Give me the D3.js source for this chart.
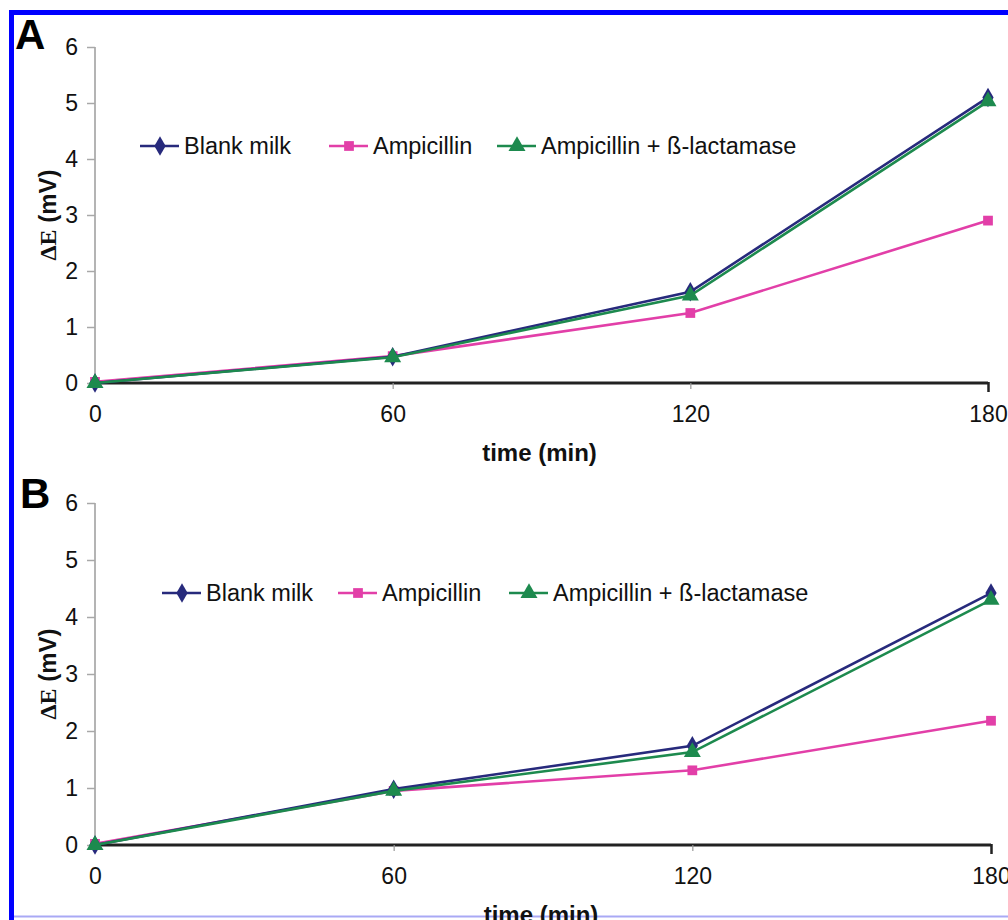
<!DOCTYPE html>
<html>
<head>
<meta charset="utf-8">
<script src="https://cdn.jsdelivr.net/npm/d3@7"></script>
<style>
  body { margin: 0; background: #fff; }
  text { font-family: "Liberation Sans", Arial, sans-serif; }
</style>
</head>
<body>
<script>
// time points and measured signal for the two panels
var times = [0, 60, 120, 180];
var yTicks = [0, 1, 2, 3, 4, 5, 6];
var seriesNames = ["Blank milk", "Ampicillin", "Ampicillin + ß-lactamase"];

var blankA = [0, 0.47, 1.63, 5.1];
var ampA = [0.02, 0.48, 1.25, 2.9];
var ampLacA = [0, 0.46, 1.56, 5.03];

var blankB = [0, 0.98, 1.74, 4.42];
var ampB = [0.02, 0.95, 1.31, 2.18];
var ampLacB = [0, 0.95, 1.63, 4.3];

var colors = ["#272a7c", "#e23fa8", "#1d8a4e"];
var symbols = [d3.symbolDiamond, d3.symbolSquare, d3.symbolTriangle];
var symbolSizes = [110, 95, 125];

var W = 1008, H = 920;

var svg = d3.select("body").append("svg")
    .attr("width", W)
    .attr("height", H);

svg.append("rect").attr("width", W).attr("height", H).attr("fill", "#fff");

// frame round the figure
svg.append("path")
    .attr("d", "M11.5,920 L11.5,12.5 L1008,12.5")
    .attr("fill", "none")
    .attr("stroke", "#0000ff")
    .attr("stroke-width", 5);
svg.append("line")
    .attr("x1", 14).attr("x2", W).attr("y1", 916.5).attr("y2", 916.5)
    .attr("stroke", "#a9a9f5").attr("stroke-width", 2);

function drawPanel(opt) {
  var g = svg.append("g");

  var x = d3.scaleLinear().domain([0, 180]).range([opt.x0, opt.x1]);
  var y = d3.scaleLinear().domain([0, 6]).range([opt.y0, opt.y6]);

  // y axis (grey)
  var yAxis = g.append("g")
      .attr("transform", "translate(" + opt.x0 + ",0)")
      .call(d3.axisLeft(y).tickValues(yTicks).tickSize(8).tickPadding(9).tickFormat(d3.format("d")));
  yAxis.select(".domain").attr("stroke", "#b4b4b4").attr("stroke-width", 2)
      .attr("d", "M0," + opt.y6 + "V" + opt.y0);
  yAxis.selectAll(".tick line").attr("stroke", "#a8a8a8").attr("stroke-width", 1.5);
  yAxis.selectAll(".tick text").attr("font-size", 23).attr("fill", "#111");

  // x axis (dark)
  var xAxis = g.append("g")
      .attr("transform", "translate(0," + opt.y0 + ")")
      .call(d3.axisBottom(x).tickValues(times).tickSize(6).tickPadding(17));
  xAxis.select(".domain").attr("stroke", "#222").attr("stroke-width", 3)
      .attr("d", "M" + opt.x0 + ",0H" + opt.x1);
  xAxis.selectAll(".tick line").attr("stroke", "#999").attr("stroke-width", 1.2);
  xAxis.selectAll(".tick").filter(function(d) { return d === 180; })
      .select("line").attr("stroke", "#222").attr("stroke-width", 2.5).attr("y1", -1).attr("y2", 9);
  xAxis.selectAll(".tick").filter(function(d) { return d === 0; }).select("line").remove();
  xAxis.selectAll(".tick text").attr("font-size", 23).attr("fill", "#111");

  // axis titles
  g.append("text")
      .attr("x", (opt.x0 + opt.x1) / 2 - 2)
      .attr("y", opt.y0 + 78)
      .attr("text-anchor", "middle")
      .attr("font-size", 24)
      .attr("font-weight", "bold")
      .attr("fill", "#111")
      .text("time (min)");

  var yt = g.append("text")
      .attr("transform", "translate(56," + ((opt.y0 + opt.y6) / 2) + ") rotate(-90)")
      .attr("text-anchor", "middle")
      .attr("font-size", 24)
      .attr("font-weight", "bold")
      .attr("fill", "#111");
  yt.append("tspan").attr("font-family", "'Liberation Serif', 'Times New Roman', serif").text("ΔE");
  yt.append("tspan").text(" (mV)");

  // panel letter
  g.append("text")
      .attr("x", opt.letterX)
      .attr("y", opt.letterY)
      .attr("font-size", 42)
      .attr("font-weight", "bold")
      .attr("fill", "#000")
      .text(opt.letter);

  var line = d3.line()
      .x(function(d, i) { return x(times[i]); })
      .y(function(d) { return y(d); });

  // draw pink first, then navy, then green on top
  [1, 0, 2].forEach(function(s) {
    g.append("path")
        .datum(opt.data[s])
        .attr("fill", "none")
        .attr("stroke", colors[s])
        .attr("stroke-width", 2.6)
        .attr("d", line);
    g.selectAll(".m" + s)
        .data(opt.data[s])
        .enter().append("path")
        .attr("class", "m" + s)
        .attr("transform", function(d, i) { return "translate(" + x(times[i]) + "," + y(d) + ")"; })
        .attr("d", d3.symbol().type(symbols[s]).size(symbolSizes[s]))
        .attr("fill", colors[s]);
  });

  // legend: legendX holds where each label's text starts
  var legend = g.selectAll(".legend")
      .data(seriesNames)
    .enter().append("g")
      .attr("class", "legend")
      .attr("transform", function(d, i) { return "translate(" + opt.legendX[i] + "," + opt.legendY + ")"; });

  legend.append("line")
      .attr("x1", -44).attr("x2", -5)
      .attr("stroke", function(d, i) { return colors[i]; })
      .attr("stroke-width", 2.6);
  legend.append("path")
      .attr("transform", "translate(-24,0)")
      .attr("d", function(d, i) { return d3.symbol().type(symbols[i]).size(symbolSizes[i])(); })
      .attr("fill", function(d, i) { return colors[i]; });
  legend.append("text")
      .attr("dy", "0.36em")
      .attr("font-size", 23.5)
      .attr("fill", "#111")
      .text(function(d) { return d; });
}

drawPanel({
  letter: "A", letterX: 15, letterY: 49,
  x0: 95, x1: 988, y0: 383, y6: 47,
  legendX: [184, 373, 541], legendY: 146,
  data: [blankA, ampA, ampLacA]
});

drawPanel({
  letter: "B", letterX: 20, letterY: 508,
  x0: 95, x1: 991, y0: 845, y6: 503,
  legendX: [206, 382, 553], legendY: 593,
  data: [blankB, ampB, ampLacB]
});
</script>
</body>
</html>
